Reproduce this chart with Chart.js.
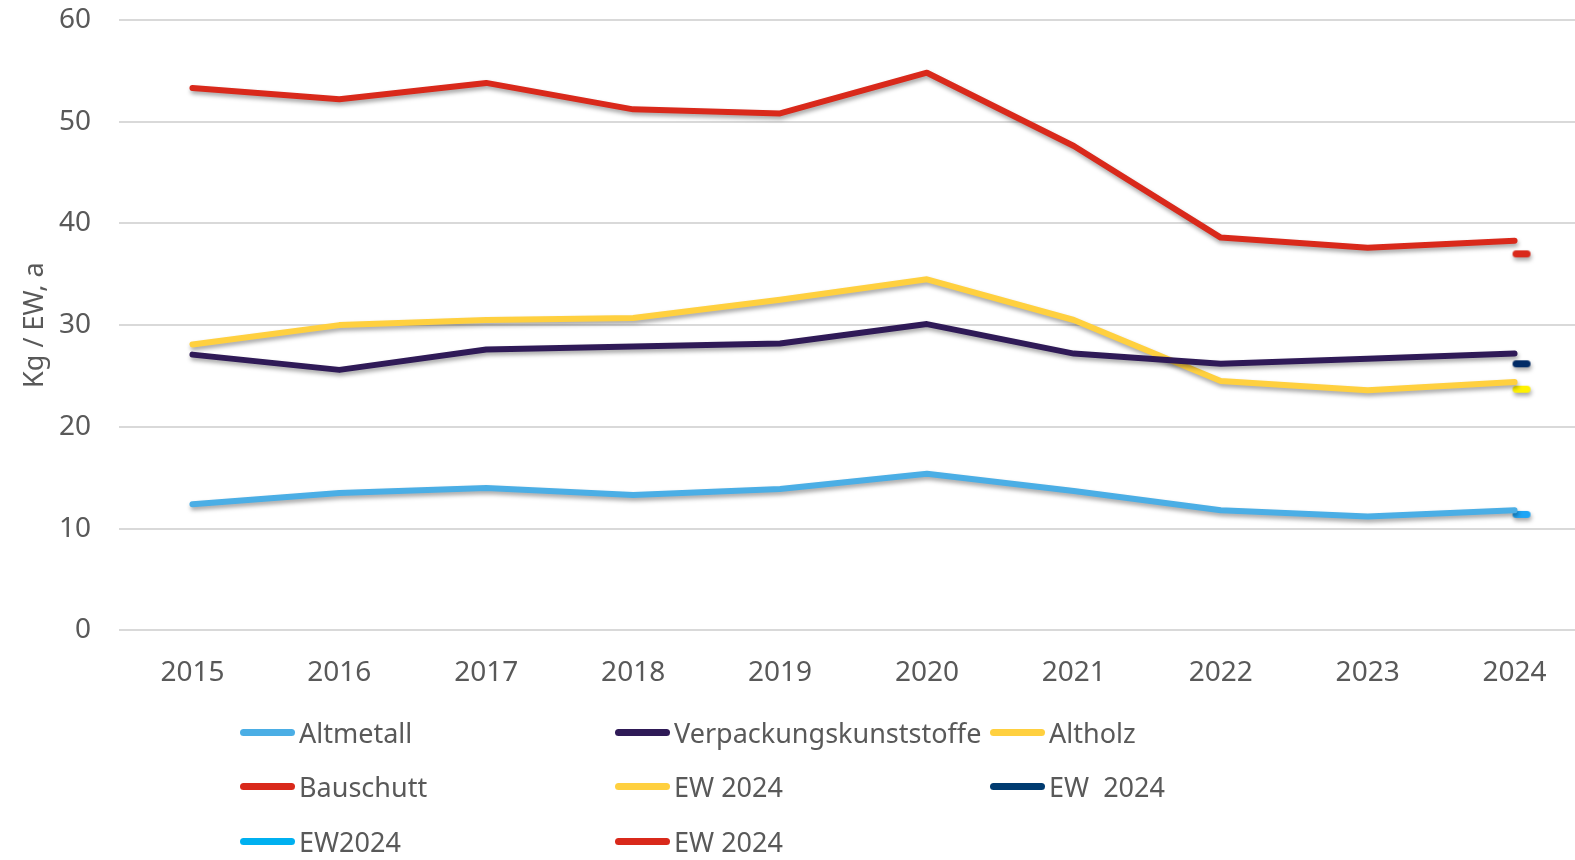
<!DOCTYPE html>
<html>
<head>
<meta charset="utf-8">
<script src="https://cdn.jsdelivr.net/npm/chart.js@4.4.1/dist/chart.umd.min.js"></script>
<style>
  body { margin: 0; background: #fff; font-family: "Noto Sans", sans-serif; overflow: hidden; }
  #wrap { position: relative; width: 1575px; height: 860px; overflow: hidden; }
  #box { position: absolute; left: 0; top: -25px; width: 1595px; height: 733px; }
  #legende { position: absolute; left: 240px; top: 705px; display: grid;
    grid-template-columns: 375px 375px 375px; grid-auto-rows: 54.5px; }
  .eintrag { display: flex; align-items: center; font-size: 27px; color: #595959; white-space: nowrap; }
  .strich { width: 55px; height: 7px; border-radius: 4px; margin-right: 4px; flex: none; }
</style>
</head>
<body>
<div id="wrap">
  <div id="box"><canvas id="grafico"></canvas></div>
  <div id="legende"></div>
</div>
<script>
const jahre = ["2015", "2016", "2017", "2018", "2019", "2020", "2021", "2022", "2023", "2024"];
const altmetall = [12.4, 13.5, 14.0, 13.3, 13.9, 15.4, 13.7, 11.8, 11.2, 11.8];
const verpackung = [27.1, 25.6, 27.6, 27.9, 28.2, 30.1, 27.2, 26.2, 26.7, 27.2];
const altholz = [28.1, 30.0, 30.5, 30.7, 32.5, 34.5, 30.5, 24.5, 23.6, 24.4];
const bauschutt = [53.3, 52.2, 53.8, 51.2, 50.8, 54.8, 47.6, 38.6, 37.6, 38.3];
const ewAltholz = [null, null, null, null, null, null, null, null, null, 23.7];
const ewVerpackung = [null, null, null, null, null, null, null, null, null, 26.2];
const ewAltmetall = [null, null, null, null, null, null, null, null, null, 11.4];
const ewBauschutt = [null, null, null, null, null, null, null, null, null, 37.0];

// kleiner Strich rechts neben dem Punkt
function strichBild(farbe) {
  const c = document.createElement("canvas");
  c.width = 36;
  c.height = 9;
  const ctx = c.getContext("2d");
  ctx.fillStyle = farbe;
  ctx.beginPath();
  ctx.roundRect(16, 1, 18, 7, 3.5);
  ctx.fill();
  return c;
}

function linie(label, data, farbe) {
  return {
    label: label,
    data: data,
    borderColor: farbe,
    backgroundColor: farbe,
    borderWidth: 6,
    borderCapStyle: "round",
    borderJoinStyle: "round",
    pointRadius: 0,
    tension: 0,
  };
}

function punkt(label, data, farbe, legendeFarbe) {
  return {
    label: label,
    data: data,
    borderColor: legendeFarbe,
    backgroundColor: legendeFarbe,
    showLine: false,
    pointStyle: strichBild(farbe),
    pointRadius: 9,
  };
}

const datensaetze = [
  linie("Altmetall", altmetall, "#4BAEE5"),
  linie("Verpackungskunststoffe", verpackung, "#2F1A57"),
  linie("Altholz", altholz, "#FFD03F"),
  linie("Bauschutt", bauschutt, "#D9291B"),
  punkt("EW 2024", ewAltholz, "#FFF200", "#FFD03F"),
  punkt("EW  2024", ewVerpackung, "#002B66", "#003B70"),
  punkt("EW2024", ewAltmetall, "#1EA5F5", "#00B0F0"),
  punkt("EW 2024", ewBauschutt, "#D9291B", "#D9291B"),
];

const schatten = {
  id: "schatten",
  beforeDatasetsDraw(chart) {
    const ctx = chart.ctx;
    ctx.save();
    ctx.shadowColor = "rgba(0,0,0,0.35)";
    ctx.shadowBlur = 4;
    ctx.shadowOffsetX = 1;
    ctx.shadowOffsetY = 3;
  },
  afterDatasetsDraw(chart) {
    chart.ctx.restore();
  },
};

new Chart(document.getElementById("grafico"), {
  type: "line",
  data: { labels: jahre, datasets: datensaetze },
  plugins: [schatten],
  options: {
    responsive: true,
    maintainAspectRatio: false,
    animation: false,
    layout: { autoPadding: false, padding: { top: 2, right: 7, bottom: 0 } },
    plugins: {
      legend: { display: false },
      tooltip: { enabled: false },
    },
    scales: {
      x: {
        offset: true,
        grid: { display: false },
        border: { display: false },
        ticks: { color: "#595959", font: { family: "Noto Sans", size: 28 }, padding: 18 },
      },
      y: {
        min: 0,
        max: 60,
        ticks: { stepSize: 10, color: "#595959", font: { family: "Noto Sans", size: 28 }, padding: 28 },
        grid: { color: "#D9D9D9", lineWidth: 2, drawTicks: false },
        border: { display: false },
        title: {
          display: true,
          text: "Kg / EW, a",
          color: "#595959",
          font: { family: "Noto Sans", size: 27 },
          padding: { top: 19, bottom: 0 },
        },
        afterFit(scale) { scale.width = 119; },
      },
    },
  },
});

const legende = document.getElementById("legende");
datensaetze.forEach(function (d) {
  const e = document.createElement("div");
  e.className = "eintrag";
  e.innerHTML = '<span class="strich" style="background:' + d.borderColor + '"></span>';
  const t = document.createElement("span");
  t.textContent = d.label;
  t.style.whiteSpace = "pre";
  e.appendChild(t);
  legende.appendChild(e);
});
</script>
</body>
</html>
